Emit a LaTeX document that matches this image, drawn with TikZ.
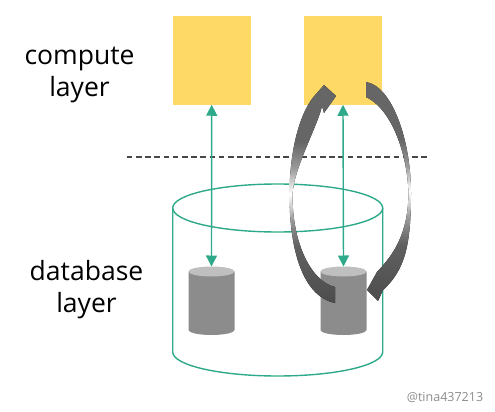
\documentclass[tikz,border=0pt]{standalone}
\usepackage{fontspec}
\setmainfont{Open Sans}
\usetikzlibrary{arrows.meta}

\pgfdeclareverticalshading{swirlfade}{100bp}{color(0bp)=(black!70); color(25bp)=(black!70); color(38bp)=(black!62); color(44bp)=(black!40); color(50bp)=(white); color(56bp)=(black!40); color(62bp)=(black!60); color(75bp)=(black!60); color(100bp)=(black!60)}

\begin{document}
\begin{tikzpicture}[x=1pt,y=-1pt,
  computebox/.style={fill=compute_fill,minimum width=78pt,minimum height=88.5pt,inner sep=0pt},
  layertext/.style={align=center,inner sep=0pt,font=\fontsize{26.5}{32}\selectfont},
  link/.style={link_green,line width=1.4pt,{Triangle[width=11pt,length=11pt]}-{Triangle[width=11pt,length=11pt]}},
  storeline/.style={link_green,line width=1.4pt},
  divider/.style={black!72,line width=1.8pt,dash pattern=on 5.6pt off 3.6pt},
  swirl/.style={shading=swirlfade}]
\definecolor{compute_fill}{HTML}{FFD966}
\definecolor{link_green}{RGB}{46,170,138}
\definecolor{disk_body}{HTML}{8C8C8C}
\definecolor{disk_top}{HTML}{BFBFBF}
\useasboundingbox (0,0) rectangle (495,412);

% labels
\node[layertext] (computelabel) at (79.5,74.5) {compute\\layer};
\node[layertext] (dblabel) at (86.5,290) {database\\layer};

% compute layer
\node[computebox] (boxL) at (211.7,60.3) {};
\node[computebox] (boxR) at (343,60.3) {};

\draw[divider] (126.7,156.7) -- (428,156.7);

% database layer
\draw[storeline] (172.7,208) -- (172.7,352) arc[start angle=180,end angle=0,x radius=105,y radius=24] -- (382.7,208);
\draw[storeline] (277.7,208) ellipse [x radius=105,y radius=24];

\foreach \x/\n in {211.5/L,343.5/R}{
\fill[disk_body] (\x - 23,271.5) -- (\x - 23,330) arc[start angle=180,end angle=0,x radius=23,y radius=5] -- (\x + 23,271.5) -- cycle;
\fill[disk_top] (\x,271.5) ellipse [x radius=23,y radius=5];
\coordinate (disk\n) at (\x,266.5);
}

\draw[link] (boxL.south) -- (diskL);
\draw[link] (boxR.south) -- (diskR);

% swap arrows
\fill[swirl] (335,287) .. controls (315,283) and (292.5,250) .. (292.5,195)
  .. controls (293,170) and (318,125) .. (322,106)
  -- (324,113) -- (336,96) -- (324,85) -- (317,93)
  .. controls (300,110) and (289.5,150) .. (289.5,195)
  .. controls (289.5,255) and (305,297) .. (335,303) -- cycle;
\fill[swirl] (366,82) .. controls (392,86) and (411,140) .. (411,193)
  .. controls (411,245) and (405,270) .. (383,290)
  -- (378,301) -- (367,290) -- (377,272)
  .. controls (393,255) and (408,235) .. (408.5,193)
  .. controls (407,150) and (390,108) .. (366,97) -- cycle;

\node[text=black!45,font=\fontsize{12.5}{14}\selectfont] (credit) at (445,397) {@tina437213};
\end{tikzpicture}
\end{document}
